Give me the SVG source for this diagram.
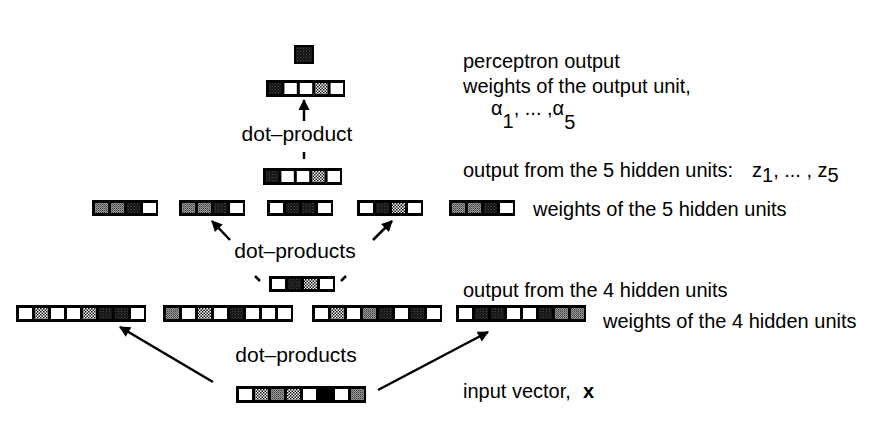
<svg xmlns="http://www.w3.org/2000/svg" width="893" height="425" viewBox="0 0 893 425">
<defs>
<pattern id="pL" width="3" height="3" patternUnits="userSpaceOnUse"><rect width="3" height="3" fill="#fff"/><rect width="1.5" height="1.5" fill="#111"/><rect x="1.5" y="1.5" width="1.5" height="1.5" fill="#111"/></pattern>
<pattern id="pG" width="2" height="2" patternUnits="userSpaceOnUse"><rect width="2" height="2" fill="#999"/><rect width="1" height="1" fill="#3a3a3a"/><rect x="1" y="1" width="1" height="1" fill="#666"/></pattern>
<pattern id="pD" width="3" height="3" patternUnits="userSpaceOnUse"><rect width="3" height="3" fill="#141414"/><rect width="1" height="1" fill="#4a4a4a"/><rect x="1.5" y="1.5" width="1" height="1" fill="#3a3a3a"/></pattern>
<marker id="ahS" viewBox="0 0 10 10" refX="9" refY="5" markerWidth="12" markerHeight="11" markerUnits="userSpaceOnUse" orient="auto"><path d="M0,0 L10,5 L0,10 Z" fill="#000"/></marker>
<marker id="ahL" viewBox="0 0 10 10" refX="9" refY="5" markerWidth="16" markerHeight="11" markerUnits="userSpaceOnUse" orient="auto"><path d="M0,0 L10,5 L0,10 Z" fill="#000"/></marker>
</defs>
<style>
.f{fill:#000}
.w{fill:#fff}
.l{fill:url(#pL)}
.g{fill:url(#pG)}
.d{fill:url(#pD)}
text{font-family:"Liberation Sans",Arial,Helvetica,sans-serif;font-size:20px;fill:#000}
.c{text-anchor:middle;font-size:21px}
.ln{stroke:#000;stroke-width:2.5;fill:none}
</style>
<rect width="893" height="425" fill="#fff"/>

<!-- perceptron output -->
<g id="perceptron-output">
<rect class="f" x="294" y="45" width="20" height="19"/>
<rect class="d" x="296" y="47" width="16" height="15"/>
</g>

<!-- output unit weights -->
<g id="output-weights" transform="translate(266,80)">
<rect class="f" width="79" height="17"/>
<rect class="d" x="3" y="3" width="12.4" height="11"/>
<rect class="w" x="18.4" y="3" width="12.4" height="11"/>
<rect class="w" x="33.8" y="3" width="12.4" height="11"/>
<rect class="l" x="49.2" y="3" width="12.4" height="11"/>
<rect class="w" x="64.6" y="3" width="12.4" height="11"/>
</g>

<!-- output from 5 hidden units -->
<g id="hidden5-output" transform="translate(263,168)">
<rect class="f" width="79" height="17"/>
<rect class="d" x="3" y="3" width="12.4" height="11"/>
<rect class="w" x="18.4" y="3" width="12.4" height="11"/>
<rect class="w" x="33.8" y="3" width="12.4" height="11"/>
<rect class="l" x="49.2" y="3" width="12.4" height="11"/>
<rect class="w" x="64.6" y="3" width="12.4" height="11"/>
</g>

<!-- weights of the 5 hidden units -->
<g id="hidden5-w1" transform="translate(92,200)">
<rect class="f" width="66" height="16"/>
<rect class="g" x="3" y="3" width="13" height="10"/>
<rect class="g" x="19" y="3" width="13" height="10"/>
<rect class="d" x="35" y="3" width="13" height="10"/>
<rect class="w" x="51" y="3" width="13" height="10"/>
</g>
<g id="hidden5-w2" transform="translate(179,200)">
<rect class="f" width="66" height="16"/>
<rect class="g" x="3" y="3" width="13" height="10"/>
<rect class="g" x="19" y="3" width="13" height="10"/>
<rect class="d" x="35" y="3" width="13" height="10"/>
<rect class="w" x="51" y="3" width="13" height="10"/>
</g>
<g id="hidden5-w3" transform="translate(267,200)">
<rect class="f" width="66" height="16"/>
<rect class="w" x="3" y="3" width="13" height="10"/>
<rect class="d" x="19" y="3" width="13" height="10"/>
<rect class="d" x="35" y="3" width="13" height="10"/>
<rect class="w" x="51" y="3" width="13" height="10"/>
</g>
<g id="hidden5-w4" transform="translate(357,200)">
<rect class="f" width="66" height="16"/>
<rect class="w" x="3" y="3" width="13" height="10"/>
<rect class="d" x="19" y="3" width="13" height="10"/>
<rect class="l" x="35" y="3" width="13" height="10"/>
<rect class="w" x="51" y="3" width="13" height="10"/>
</g>
<g id="hidden5-w5" transform="translate(449,200)">
<rect class="f" width="66" height="16"/>
<rect class="g" x="3" y="3" width="13" height="10"/>
<rect class="g" x="19" y="3" width="13" height="10"/>
<rect class="d" x="35" y="3" width="13" height="10"/>
<rect class="w" x="51" y="3" width="13" height="10"/>
</g>

<!-- output from 4 hidden units -->
<g id="hidden4-output" transform="translate(269,276)">
<rect class="f" width="66" height="16"/>
<rect class="w" x="3" y="3" width="13" height="10"/>
<rect class="d" x="19" y="3" width="13" height="10"/>
<rect class="l" x="35" y="3" width="13" height="10"/>
<rect class="w" x="51" y="3" width="13" height="10"/>
</g>

<!-- weights of the 4 hidden units -->
<g id="hidden4-w1" transform="translate(16,305)">
<rect class="f" width="130" height="17"/>
<rect class="w" x="3" y="3" width="13" height="11"/>
<rect class="l" x="19" y="3" width="13" height="11"/>
<rect class="w" x="35" y="3" width="13" height="11"/>
<rect class="w" x="51" y="3" width="13" height="11"/>
<rect class="l" x="67" y="3" width="13" height="11"/>
<rect class="d" x="83" y="3" width="13" height="11"/>
<rect class="d" x="99" y="3" width="13" height="11"/>
<rect class="w" x="115" y="3" width="13" height="11"/>
</g>
<g id="hidden4-w2" transform="translate(163,305)">
<rect class="f" width="130" height="17"/>
<rect class="g" x="3" y="3" width="13" height="11"/>
<rect class="w" x="19" y="3" width="13" height="11"/>
<rect class="l" x="35" y="3" width="13" height="11"/>
<rect class="w" x="51" y="3" width="13" height="11"/>
<rect class="d" x="67" y="3" width="13" height="11"/>
<rect class="w" x="83" y="3" width="13" height="11"/>
<rect class="w" x="99" y="3" width="13" height="11"/>
<rect class="w" x="115" y="3" width="13" height="11"/>
</g>
<g id="hidden4-w3" transform="translate(312,305)">
<rect class="f" width="130" height="17"/>
<rect class="w" x="3" y="3" width="13" height="11"/>
<rect class="l" x="19" y="3" width="13" height="11"/>
<rect class="w" x="35" y="3" width="13" height="11"/>
<rect class="g" x="51" y="3" width="13" height="11"/>
<rect class="d" x="67" y="3" width="13" height="11"/>
<rect class="w" x="83" y="3" width="13" height="11"/>
<rect class="d" x="99" y="3" width="13" height="11"/>
<rect class="w" x="115" y="3" width="13" height="11"/>
</g>
<g id="hidden4-w4" transform="translate(456,305)">
<rect class="f" width="130" height="17"/>
<rect class="w" x="3" y="3" width="13" height="11"/>
<rect class="d" x="19" y="3" width="13" height="11"/>
<rect class="d" x="35" y="3" width="13" height="11"/>
<rect class="w" x="51" y="3" width="13" height="11"/>
<rect class="w" x="67" y="3" width="13" height="11"/>
<rect class="d" x="83" y="3" width="13" height="11"/>
<rect class="g" x="99" y="3" width="13" height="11"/>
<rect class="g" x="115" y="3" width="13" height="11"/>
</g>

<!-- input vector -->
<g id="input-vector" transform="translate(236,386)">
<rect class="f" width="130" height="17"/>
<rect class="w" x="3" y="3" width="13" height="11"/>
<rect class="l" x="19" y="3" width="13" height="11"/>
<rect class="g" x="35" y="3" width="13" height="11"/>
<rect class="l" x="51" y="3" width="13" height="11"/>
<rect class="w" x="67" y="3" width="13" height="11"/>
<rect class="w" x="99" y="3" width="13" height="11"/>
<rect class="g" x="115" y="3" width="13" height="11"/>
</g>

<!-- connectors -->
<g id="connectors">
<line class="ln" x1="304" y1="121" x2="304" y2="100" marker-end="url(#ahS)"/>
<line class="ln" x1="304" y1="152" x2="304" y2="159"/>
<line class="ln" x1="230" y1="240" x2="212" y2="221" marker-end="url(#ahS)"/>
<line class="ln" x1="373" y1="240" x2="392" y2="221" marker-end="url(#ahS)"/>
<line class="ln" x1="255" y1="276" x2="260" y2="281"/>
<line class="ln" x1="346" y1="276" x2="341" y2="281"/>
<line class="ln" x1="213" y1="382" x2="120" y2="327" marker-end="url(#ahL)"/>
<line class="ln" x1="378" y1="390" x2="488" y2="332" marker-end="url(#ahL)"/>
</g>

<!-- labels -->
<g id="labels">
<text class="c" x="297" y="141">dot–product</text>
<text class="c" x="295" y="258">dot–products</text>
<text class="c" x="296" y="362">dot–products</text>
<text x="463" y="68">perceptron output</text>
<text x="463" y="93">weights of the output unit,</text>
<text x="491" y="115">α<tspan dy="13">1</tspan><tspan dy="-13">, ... ,α</tspan><tspan dy="14">5</tspan></text>
<text x="463" y="177">output from the 5 hidden units:  <tspan x="752">z</tspan><tspan dy="5">1</tspan><tspan dy="-5">, ... , z</tspan><tspan dy="5">5</tspan></text>
<text x="533" y="216">weights of the 5 hidden units</text>
<text x="463" y="297">output from the 4 hidden units</text>
<text x="603" y="328">weights of the 4 hidden units</text>
<text x="463" y="398">input vector,<tspan x="583" font-weight="bold">x</tspan></text>
</g>
</svg>
